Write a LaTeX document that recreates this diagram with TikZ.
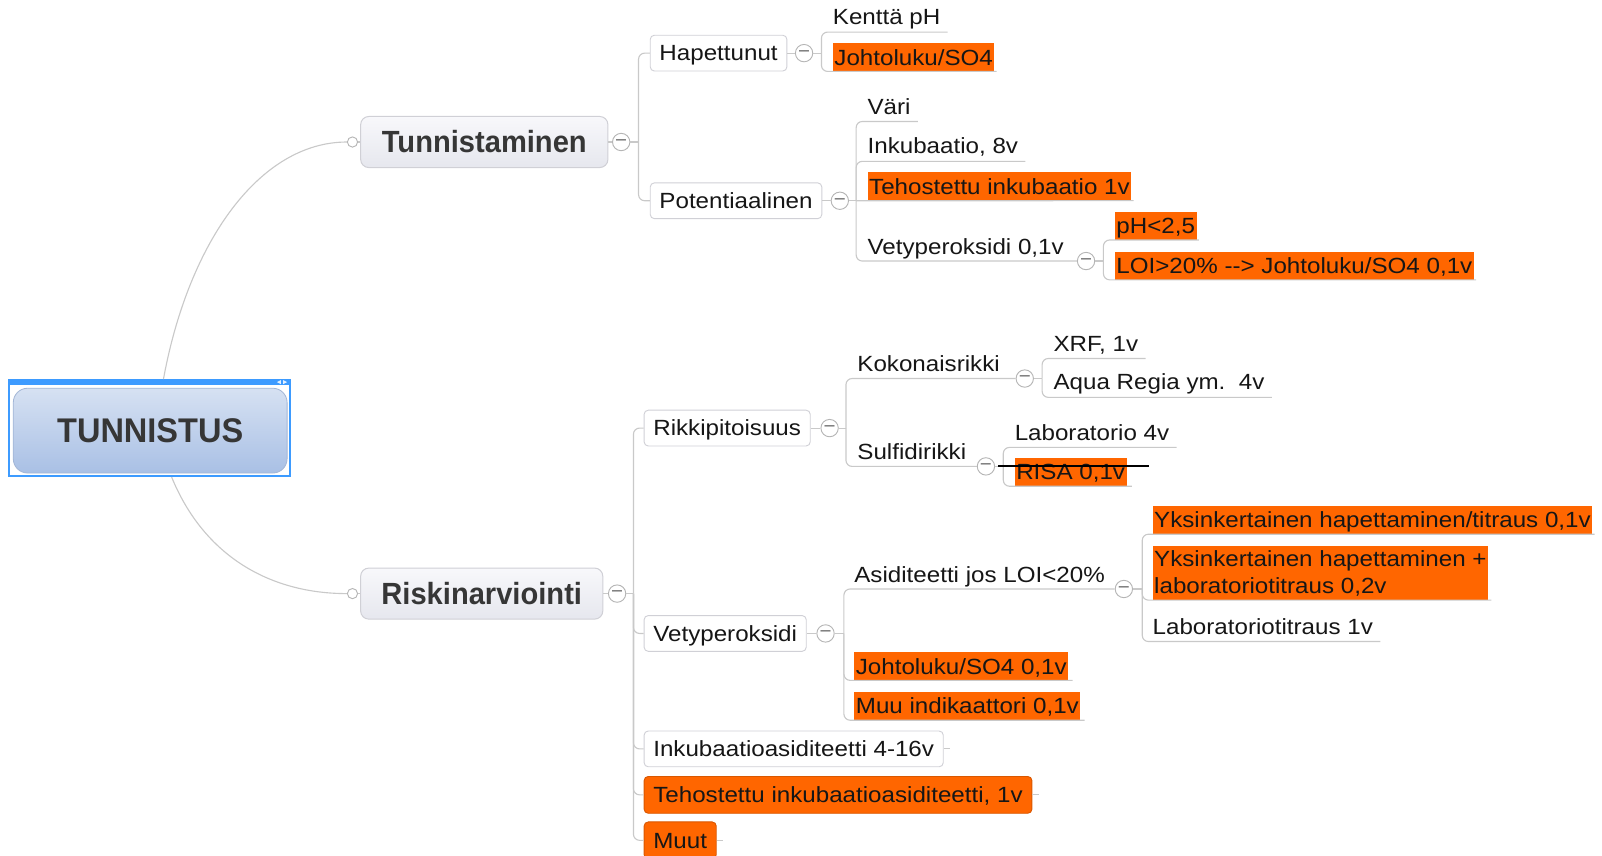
\documentclass[tikz,border=0pt]{standalone}
\usepackage{fontspec}
\setmainfont{Liberation Sans}[FakeStretch=1.1]
\newfontfamily\titlefont{Liberation Sans}[FakeStretch=0.95]
\usetikzlibrary{calc}
\definecolor{lineg}{HTML}{C9C9C9}
\definecolor{btnb}{HTML}{B5B5B5}
\definecolor{boxb}{HTML}{D0D0D6}
\definecolor{orng}{HTML}{FF6600}
\definecolor{txtc}{HTML}{161616}
\definecolor{titc}{HTML}{363636}
\definecolor{bluef}{HTML}{3D9BFF}
\definecolor{rtop}{HTML}{D6E1F2}
\definecolor{rbot}{HTML}{A9C0E5}
\definecolor{ttop}{HTML}{F8F8FB}
\definecolor{tbot}{HTML}{E6E7EE}
\definecolor{minusc}{HTML}{4A4A4A}
\newcommand{\fsn}{\fontsize{21.5}{26}\selectfont}
\tikzset{
 conn/.style={draw=lineg, line width=1.1pt, rounded corners=6pt},
 curve/.style={draw=lineg, line width=1.1pt},
 txt/.style={font=\fsn, text=txtc, inner xsep=0pt, inner ysep=7pt, text height=15.4pt, text depth=0pt, anchor=west},
 hl/.style={txt, fill=orng, inner xsep=1.5pt, inner ysep=6pt},
 lbox/.style={font=\fsn, text=txtc, draw=boxb, fill=white, rounded corners=4pt, inner xsep=9pt, inner ysep=0pt, minimum height=35pt, text height=15.4pt, text depth=0pt, anchor=west, line width=0.9pt},
 obox/.style={lbox, fill=orng, draw=orng!85!black},
 tbox/.style={font={\titlefont\bfseries\fontsize{30}{34}\selectfont}, text=titc, draw=boxb, top color=ttop, bottom color=tbot, rounded corners=8pt, inner sep=0pt, line width=1pt},
 btn/.style={circle, draw=btnb, fill=white, minimum size=17pt, inner sep=0pt, line width=0.9pt, font={\fontsize{16}{16}\selectfont}, text=minusc},
 dot/.style={circle, draw=btnb, fill=white, minimum size=10pt, inner sep=0pt, line width=0.9pt}
}
\begin{document}
\begin{tikzpicture}[x=1pt,y=-1pt]
\useasboundingbox (0,0) rectangle (1568,837);
% root
\node[draw=bluef, line width=2pt, minimum width=275pt, minimum height=94pt, inner sep=0pt] (frame) at (146.5,419) {};
\fill[bluef] (frame.north west) rectangle ([yshift=-6pt]frame.north east);
\fill[white!85!bluef] ([xshift=-10pt,yshift=-1pt]frame.north east) -- ++(-4pt,-2pt) -- ++(4pt,-2pt) -- cycle;
\fill[white!85!bluef] ([xshift=-8pt,yshift=-1pt]frame.north east) -- ++(4pt,-2pt) -- ++(-4pt,-2pt) -- cycle;
\node[rounded corners=14pt, top color=rtop, bottom color=rbot, draw=rbot!85!gray, line width=0.8pt, minimum width=268pt, minimum height=83pt, inner sep=0pt, font={\titlefont\bfseries\fontsize{33.5}{36}\selectfont}, text=titc] (root) at (147,421.5) {TUNNISTUS};
% level 1
\node[tbox, minimum width=242pt, minimum height=50pt] (tun) at (474,139) {Tunnistaminen};
\node[tbox, minimum width=237pt, minimum height=50pt] (risk) at (471.5,581) {Riskinarviointi};
\node[dot] (ltun) at (345,139) {};
\node[dot] (lrisk) at (345,581) {};
\node[btn] (ctun) at (608,139) {–};
\node[btn] (crisk) at (604,581) {–};
\coordinate (btun) at (625,139);
\coordinate (brisk) at (620,581);
\draw[curve] ([xshift=13.5pt]frame.north) .. controls (185,235) and (255,139) .. (ltun.west);
\draw[curve] ([xshift=21.5pt]frame.south) .. controls (200,545) and (265,581) .. (lrisk.west);
\draw[conn] (ltun.east) -- (tun.west);
\draw[conn] (lrisk.east) -- (risk.west);
\draw[conn] (tun.east) -- (ctun.west);
\draw[conn] (risk.east) -- (crisk.west);
% Tunnistaminen branch
\node[lbox] (hap) at (636,52) {Hapettunut};
\node[lbox] (pot) at (636,196.5) {Potentiaalinen};
\draw[conn] (ctun.east) -- (btun);
\draw[conn] (btun) |- (hap.west);
\draw[conn] (btun) |- (pot.west);
\node[btn] (chap) at (787,52) {–};
\coordinate (bhap) at (804,52);
\draw[conn] (hap.east) -- (chap.west);
\draw[conn] (chap.east) -- (bhap);
\node[txt] (kentta) at (815,16.5) {Kenttä pH};
\node[hl] (johto1) at (815,56) {Johtoluku/SO4};
\draw[conn] (bhap) |- ([xshift=7pt]kentta.south east);
\draw[conn] (bhap) |- ([xshift=2pt]johto1.south east);
\node[btn] (cpot) at (822,196.5) {–};
\coordinate (bpot) at (838,196.5);
\draw[conn] (pot.east) -- (cpot.west);
\draw[conn] (cpot.east) -- (bpot);
\node[txt] (vari) at (849,104) {Väri};
\node[txt] (inku) at (849,143) {Inkubaatio, 8v};
\node[hl] (teho) at (849,182.5) {Tehostettu inkubaatio 1v};
\node[txt] (vety1) at (849,241) {Vetyperoksidi 0,1v};
\node[btn] (cvety1) at (1063,255.5) {–};
\draw[conn] (bpot) |- ([xshift=7pt]vari.south east);
\draw[conn] (bpot) |- ([xshift=7pt]inku.south east);
\draw[conn] (bpot) -- ([xshift=2pt]teho.south east);
\draw[conn] (bpot) |- (cvety1.west);
\coordinate (bvety1) at (1080,255.5);
\draw[conn] (cvety1.east) -- (bvety1);
\node[hl] (ph) at (1091,221) {pH<2,5};
\node[hl] (loi) at (1091,260) {LOI>20\% -\kern0pt-\kern0pt> Johtoluku/SO4 0,1v};
\draw[conn] (bvety1) |- ([xshift=2pt]ph.south east);
\draw[conn] (bvety1) |- ([xshift=2pt]loi.south east);
% Riskinarviointi branch
\node[lbox] (rikki) at (630,419) {Rikkipitoisuus};
\node[lbox] (vety2) at (630,620) {Vetyperoksidi};
\node[lbox] (inkasi) at (630,733) {Inkubaatioasiditeetti 4-16v};
\node[obox, minimum height=36pt] (tehoasi) at (630,778) {Tehostettu inkubaatioasiditeetti, 1v};
\node[obox, minimum height=36pt] (muut) at (630,822.5) {Muut};
\draw[conn] (crisk.east) -- (brisk);
\draw[conn] (brisk) |- (rikki.west);
\draw[conn] (brisk) |- (vety2.west);
\draw[conn] (brisk) |- (inkasi.west);
\draw[conn] (brisk) |- (tehoasi.west);
\draw[conn] (brisk) |- (muut.west);
\draw[conn] (inkasi.east) -- ++(6pt,0pt);
\draw[conn] (tehoasi.east) -- ++(6pt,0pt);
\draw[conn] (muut.east) -- ++(6pt,0pt);
% Rikkipitoisuus
\node[btn] (crikki) at (812,419) {–};
\coordinate (brikki) at (828,419);
\draw[conn] (rikki.east) -- (crikki.west);
\draw[conn] (crikki.east) -- (brikki);
\node[txt] (koko) at (839,356) {Kokonaisrikki};
\node[txt] (sulf) at (839,442) {Sulfidirikki};
\node[btn] (ckoko) at (1003,370.5) {–};
\node[btn] (csulf) at (965,456.5) {–};
\draw[conn] (brikki) |- (ckoko.west);
\draw[conn] (brikki) |- (csulf.west);
\coordinate (bkoko) at (1020,370.5);
\coordinate (bsulf) at (982,456.5);
\draw[conn] (ckoko.east) -- (bkoko);
\draw[conn] (csulf.east) -- (bsulf);
\node[txt] (xrf) at (1031,336) {XRF, 1v};
\node[txt] (aqua) at (1031,374) {Aqua Regia ym.\ \ 4v};
\draw[conn] (bkoko) |- ([xshift=7pt]xrf.south east);
\draw[conn] (bkoko) |- ([xshift=7pt]aqua.south east);
\node[txt] (lab) at (993,423) {Laboratorio 4v};
\node[hl] (risa) at (993,462) {RISA 0,1v};
\draw[conn] (bsulf) |- ([xshift=7pt]lab.south east);
\draw[conn] (bsulf) |- ([xshift=5pt]risa.south east);
\draw[black, line width=2pt] ([xshift=-16pt,yshift=6pt]risa.west) -- ([xshift=22pt,yshift=6pt]risa.east);
% Vetyperoksidi
\node[btn] (cvety2) at (808,620) {–};
\coordinate (bvety2) at (826,620);
\draw[conn] (vety2.east) -- (cvety2.west);
\draw[conn] (cvety2.east) -- (bvety2);
\node[txt] (asid) at (836,562) {Asiditeetti jos LOI<20\%};
\node[btn] (casid) at (1100,576.5) {–};
\node[hl] (johto2) at (836,652) {Johtoluku/SO4 0,1v};
\node[hl] (muu) at (836,691) {Muu indikaattori 0,1v};
\draw[conn] (bvety2) |- (casid.west);
\draw[conn] (bvety2) |- ([xshift=4pt]johto2.south east);
\draw[conn] (bvety2) |- ([xshift=4pt]muu.south east);
\coordinate (basid) at (1118,576.5);
\draw[conn] (casid.east) -- (basid);
\node[hl] (yks1) at (1128,509) {Yksinkertainen hapettaminen/titraus 0,1v};
\node[font=\fsn, text=txtc, fill=orng, inner xsep=1.5pt, inner ysep=4pt, align=left, anchor=west] (yks2) at (1128,561) {Yksinkertainen hapettaminen +\\laboratoriotitraus 0,2v};
\node[txt] (labt) at (1128,613) {Laboratoriotitraus 1v};
\draw[conn] (basid) |- ([xshift=2pt]yks1.south east);
\draw[conn] (basid) |- ([xshift=3pt]yks2.south east);
\draw[conn] (basid) |- ([xshift=7pt]labt.south east);
\end{tikzpicture}
\end{document}
